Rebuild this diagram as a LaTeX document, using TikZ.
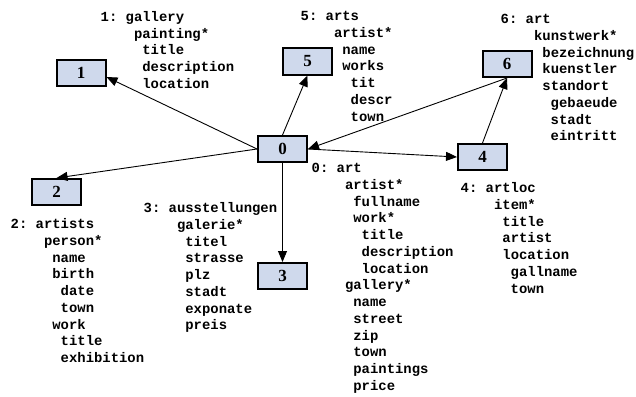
\documentclass[tikz,border=0pt]{standalone}
\usepackage{fontspec}
\setmainfont{Liberation Serif}
\newfontfamily\codefont{Liberation Mono}
\usetikzlibrary{arrows.meta}

\definecolor{boxfill}{RGB}{207,217,236}

% one schema listing: lines of monospaced text, each indented by whole characters
\newlength\cw
\newcommand\tline[2]{\hbox{\hspace*{#1\cw}#2}}
\newcommand\tblock[1]{\vtop{\frenchspacing\codefont\bfseries\fontsize{13.9}{16.75}\selectfont
  \setlength\cw{0.6em}\baselineskip=16.75pt\lineskiplimit=-20pt #1}}

\tikzset{
  schema/.style={draw=black, line width=2pt, fill=boxfill, minimum width=49pt,
    minimum height=26pt, inner sep=0pt, font=\fontsize{17}{17}\selectfont\bfseries},
  listing/.style={anchor=base west, inner sep=0pt},
  link/.style={line width=0.9pt, -{Triangle[length=11pt,width=9pt]}}
}

\begin{document}
\begin{tikzpicture}[x=1pt,y=-1pt]
\useasboundingbox (0,0) rectangle (636,396);

% schema boxes
\node[schema] (n0) at (282.5,149) {0};
\node[schema] (n1) at (81,72.5) {1};
\node[schema] (n2) at (56.5,192) {2};
\node[schema] (n3) at (282.5,276) {3};
\node[schema] (n4) at (482.5,157) {4};
\node[schema] (n5) at (307.5,61.5) {5};
\node[schema] (n6) at (507,64) {6};

% mappings between schemas
\draw[link] (n0.west) -- (n1.-10);
\draw[link] (n0.west) -- (n2.north);
\draw[link] (n0.south) -- (n3.north);
\draw[link] (n0.east) -- (n4.west);
\draw[link] (n0.north) -- (n5.south);
\draw[link] (n6.south) -- (n0.east);
\draw[link] (n4.north) -- (n6.south);

% schema listings
\node[listing] (t1) at (100.5,21.5) {\tblock{\tline0{1: gallery}\tline4{painting*}%
  \tline5{title}\tline5{description}\tline5{location}}};

\node[listing] (t5) at (300.5,20.5) {\tblock{\tline0{5: arts}\tline4{artist*}%
  \tline5{name}\tline5{works}\tline6{tit}\tline6{descr}\tline6{town}}};

\node[listing] (t6) at (500.5,23.5) {\tblock{\tline0{6: art}\tline4{kunstwerk*}%
  \tline5{bezeichnung}\tline5{kuenstler}\tline5{standort}\tline6{gebaeude}%
  \tline6{stadt}\tline6{eintritt}}};

\node[listing] (t4) at (460.5,192.5) {\tblock{\tline0{4: artloc}\tline4{item*}%
  \tline5{title}\tline5{artist}\tline5{location}\tline6{gallname}\tline6{town}}};

\node[listing] (t0) at (311.5,172.5) {\tblock{\tline0{0: art}\tline4{artist*}%
  \tline5{fullname}\tline5{work*}\tline6{title}\tline6{description}\tline6{location}%
  \tline4{gallery*}\tline5{name}\tline5{street}\tline5{zip}\tline5{town}%
  \tline5{paintings}\tline5{price}}};

\node[listing] (t3) at (143.5,212.5) {\tblock{\tline0{3: ausstellungen}\tline4{galerie*}%
  \tline5{titel}\tline5{strasse}\tline5{plz}\tline5{stadt}\tline5{exponate}\tline5{preis}}};

\node[listing] (t2) at (10.5,228.5) {\tblock{\tline0{2: artists}\tline4{person*}%
  \tline5{name}\tline5{birth}\tline6{date}\tline6{town}\tline5{work}\tline6{title}%
  \tline6{exhibition}}};

\end{tikzpicture}
\end{document}
